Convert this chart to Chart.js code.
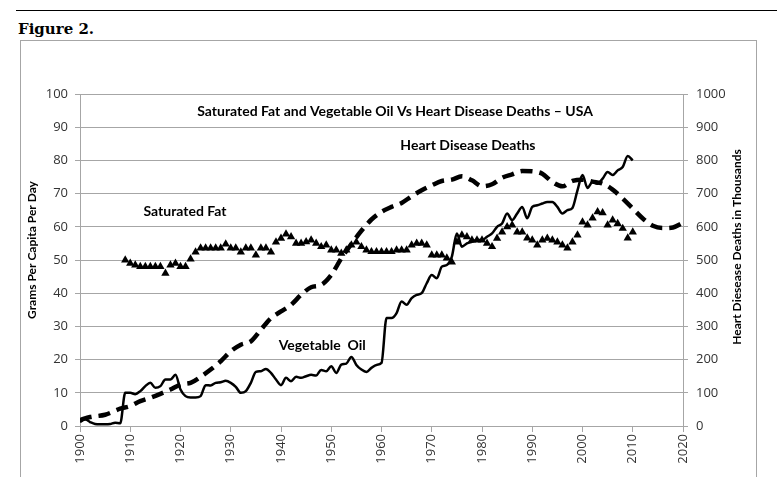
<!DOCTYPE html>
<html>
<head>
<meta charset="utf-8">
<script src="https://cdn.jsdelivr.net/npm/chart.js@4"></script>
<style>
  html, body { margin: 0; padding: 0; background: #fff; }
  body { width: 777px; height: 477px; position: relative; overflow: hidden; }
  #rule { position: absolute; left: 16px; top: 10px; width: 761px; height: 0; border-top: 1px solid #000; }
  #fig { position: absolute; left: 18px; top: 20px; font: bold 15px "DejaVu Serif", serif; color: #000; }
  #frame { position: absolute; left: 20px; top: 40px; width: 735px; height: 460px; border: 1px solid #a6a6a6; }
  #wrap { position: absolute; left: 0; top: 0; width: 777px; height: 477px; }
</style>
</head>
<body>
<div id="rule"></div>
<div id="fig">Figure 2.</div>
<div id="frame"></div>
<div id="wrap"><canvas id="chart" width="777" height="477"></canvas></div>
<script>
// heart disease deaths, thousands (right axis)
const heartYears = [1900, 1902, 1905, 1908, 1910, 1912, 1914, 1916, 1918, 1920, 1922, 1924, 1926, 1928,
  1930, 1932, 1934, 1936, 1938, 1940, 1942, 1944, 1946, 1948, 1950, 1952, 1954, 1956, 1958, 1960,
  1962, 1964, 1966, 1968, 1970, 1972, 1974, 1976, 1978, 1980, 1982, 1984, 1986, 1988, 1990, 1992,
  1994, 1996, 1998, 2000, 2002, 2004, 2006, 2008, 2010, 2012, 2014, 2016, 2018, 2020];
const heartDeaths = [18, 27, 34, 52, 60, 75, 85, 97, 110, 125, 130, 148, 170, 195,
  225, 245, 255, 290, 325, 345, 365, 395, 418, 425, 455, 505, 548, 588, 622, 645,
  660, 672, 692, 710, 725, 738, 742, 752, 740, 722, 728, 748, 758, 768, 767, 760,
  735, 722, 738, 742, 736, 730, 712, 685, 655, 625, 603, 596, 598, 612];

// vegetable oil, grams per capita per day, 1900-2010
const oilStart = 1900;
const oilValues = [1.2, 2, 1.2, 0.6, 0.5, 0.5, 0.6, 1, 0.8, 10,
  10, 9.6, 10.5, 12, 13, 11.5, 12, 14, 14, 15.4,
  11, 9, 8.6, 8.6, 9, 12.3, 12.2, 13, 13.2, 13.6,
  13, 11.8, 10, 10.5, 13, 16.3, 16.5, 17.2, 16, 14,
  12.3, 14.5, 13.5, 14.8, 14.5, 15, 15.4, 15.2, 16.9, 16.5,
  18, 16, 18.5, 18.8, 20.8, 18.4, 17, 16.3, 17.5, 18.4,
  19, 32.5, 32.5, 34, 37.5, 36.5, 38.5, 39.5, 40, 43,
  45.5, 44.5, 48, 48.5, 51, 58, 54, 55, 55.5, 56,
  56, 57, 58, 60, 61, 64, 62, 64, 66, 62.6,
  66, 66.5, 67, 67.5, 67.5, 66, 64, 65, 65.7, 71,
  75.6, 71.7, 73.5, 73, 74.5, 76.5, 75.6, 77, 78, 81.3,
  80];

// saturated fat, grams per capita per day, 1909-2010
const fatStart = 1909;
const fatValues = [50,
  49, 48.5, 48, 48, 48, 48, 48, 46, 48.5, 49,
  48, 48, 50.3, 52.4, 53.6, 53.6, 53.6, 53.6, 53.6, 54.8,
  53.6, 53.6, 52.4, 53.6, 53.6, 51.5, 53.6, 53.6, 52.4, 55.4,
  56.5, 57.8, 57, 55, 55, 55.5, 56, 55, 54, 54.5,
  53, 53, 52, 53, 54.5, 55.4, 54, 53, 52.5, 52.5,
  52.5, 52.5, 52.5, 53, 53, 53, 54.5, 55, 55, 54.5,
  51.5, 51.5, 51.5, 50.6, 49.4, 55.4, 57.5, 57, 56, 56,
  56, 55, 54, 56.5, 58.4, 60, 60.5, 58.4, 58.4, 56.6,
  56, 54.5, 56, 56.5, 56, 55.4, 54.5, 53.6, 55.4, 57.5,
  61.4, 60.5, 62.6, 64.5, 64.2, 60.5, 62, 61, 59.5, 56.6,
  58.4];

// text placed in the plot (year, left-axis value)
const notes = [
  { text: 'Saturated Fat and Vegetable Oil Vs Heart Disease Deaths \u2013 USA', year: 1962.7, value: 94.7 },
  { text: 'Heart Disease Deaths', year: 1977.2, value: 84.5 },
  { text: 'Saturated Fat', year: 1920.9, value: 64.5 },
  { text: 'Vegetable  Oil', year: 1948.2, value: 24.4 }
];

const gridGray = '#a6a6a6';
const tickFont = { family: '"Open Sans"', size: 13 };

const notesPlugin = {
  id: 'notes',
  afterDraw(chart) {
    const { ctx, scales } = chart;
    ctx.save();
    ctx.fillStyle = '#000';
    ctx.font = 'bold 14px Lato';
    ctx.textAlign = 'center';
    ctx.textBaseline = 'middle';
    notes.forEach(n => {
      ctx.fillText(n.text, scales.x.getPixelForValue(n.year), scales.y.getPixelForValue(n.value));
    });
    // axis titles, both reading bottom to top
    ctx.font = 'bold 12px Lato';
    [['Grams Per Capita Per Day', 32, 250], ['Heart Diesease Deaths in Thousands', 737, 247]].forEach(t => {
      ctx.save();
      ctx.translate(t[1], t[2]);
      ctx.rotate(-Math.PI / 2);
      ctx.fillText(t[0], 0, 0);
      ctx.restore();
    });
    ctx.restore();
  }
};

new Chart(document.getElementById('chart'), {
  type: 'line',
  data: {
    datasets: [
      {
        label: 'Vegetable Oil',
        data: oilValues.map((v, i) => ({ x: oilStart + i, y: v })),
        yAxisID: 'y',
        borderColor: '#000',
        borderWidth: 2.5,
        pointRadius: 0,
        cubicInterpolationMode: 'monotone',
        fill: false
      },
      {
        label: 'Heart Disease Deaths',
        data: heartYears.map((yr, i) => ({ x: yr, y: heartDeaths[i] })),
        yAxisID: 'y1',
        borderColor: '#000',
        borderWidth: 4.5,
        borderDash: [12, 7],
        pointRadius: 0,
        cubicInterpolationMode: 'monotone',
        fill: false
      },
      {
        label: 'Saturated Fat',
        data: fatValues.map((v, i) => ({ x: fatStart + i, y: v })),
        yAxisID: 'y',
        showLine: false,
        pointStyle: 'triangle',
        pointRadius: 4.8,
        pointBackgroundColor: '#000',
        pointBorderColor: '#000',
        pointBorderWidth: 0
      }
    ]
  },
  options: {
    responsive: false,
    animation: false,
    devicePixelRatio: 1,
    layout: { padding: { top: 94, left: 0, right: 0, bottom: 0 } },
    plugins: { legend: { display: false }, tooltip: { enabled: false } },
    scales: {
      x: {
        type: 'linear',
        min: 1900,
        max: 2020,
        afterFit: s => { s.height = 51; },
        ticks: { stepSize: 10, minRotation: 90, maxRotation: 90, padding: 2, color: '#333', font: tickFont,
          callback: v => String(v) },
        grid: { drawOnChartArea: false, tickLength: 6, color: gridGray },
        border: { color: gridGray }
      },
      y: {
        position: 'left',
        min: 0,
        max: 100,
        afterFit: s => { s.width = 80; },
        ticks: { stepSize: 10, padding: 7, color: '#333', font: tickFont },
        grid: { tickLength: 5, color: gridGray },
        border: { color: gridGray }
      },
      y1: {
        position: 'right',
        min: 0,
        max: 1000,
        afterFit: s => { s.width = 94; },
        ticks: { stepSize: 100, padding: 8, color: '#333', font: tickFont, callback: v => String(v) },
        grid: { drawOnChartArea: false, tickLength: 5, color: gridGray },
        border: { color: gridGray }
      }
    }
  },
  plugins: [notesPlugin]
});
</script>
</body>
</html>
